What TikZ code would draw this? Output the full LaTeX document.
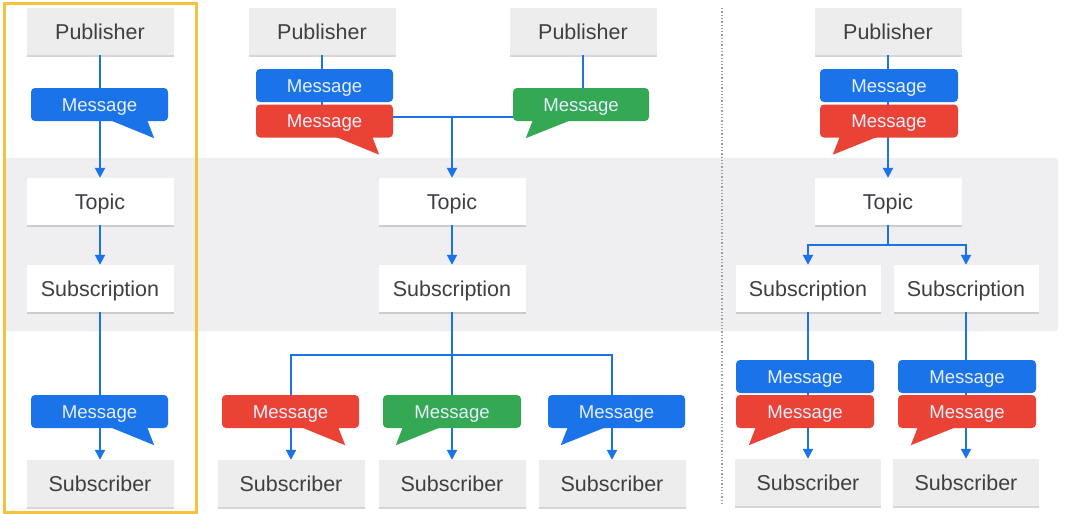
\documentclass[tikz,border=0pt]{standalone}
\usepackage{fontspec}
\setmainfont{Liberation Sans}
\usetikzlibrary{arrows.meta,shadows}
\definecolor{gblue}{HTML}{1A73E8}
\definecolor{gred}{HTML}{EA4335}
\definecolor{ggreen}{HTML}{34A853}
\definecolor{boxgray}{HTML}{EDEDEE}
\definecolor{bandgray}{HTML}{EFEEF0}
\definecolor{boxtext}{HTML}{3C4043}
\definecolor{msgtext}{HTML}{E8F0FE}
\definecolor{frameyellow}{HTML}{F5C23E}
\definecolor{dotgray}{HTML}{9AA0A6}
\tikzset{
 box/.style={minimum width=147pt, minimum height=47pt, inner sep=0pt,
   text height=15.4pt, text depth=0pt,
   font=\fontsize{21.5}{25}\selectfont, text=boxtext,
   drop shadow={shadow xshift=0pt, shadow yshift=-1.5pt, opacity=0.35, fill=black!45}},
 pubbox/.style={box, fill=boxgray},
 topbox/.style={box, fill=white},
 msg/.style={rounded corners=4pt, minimum width=137pt, minimum height=33pt, inner sep=0pt,
   text height=13.3pt, text depth=0pt,
   text=msgtext, font=\fontsize{18.6}{21}\selectfont},
 conn/.style={draw=gblue, line width=2pt},
 arr/.style={conn, -{Triangle[width=10pt,length=10pt]}},
}
\newcommand\tailR[2]{\fill[#2] ([xshift=-58pt,yshift=1pt]#1.south east) -- ([xshift=-14pt,yshift=-17pt]#1.south east) -- ([xshift=-21pt,yshift=1pt]#1.south east) -- cycle;}
\newcommand\tailL[2]{\fill[#2] ([xshift=20pt,yshift=1pt]#1.south west) -- ([xshift=13pt,yshift=-17pt]#1.south west) -- ([xshift=58pt,yshift=1pt]#1.south west) -- cycle;}
\begin{document}
\begin{tikzpicture}[x=1pt,y=-1pt]
\fill[white] (0,0) rectangle (1071,514);
\useasboundingbox (0,0) rectangle (1071,514);
% band
\fill[bandgray, rounded corners=3pt] (5,158) rectangle (1058,331);
\draw[frameyellow, line width=3pt] (4,3) rectangle (196,512);
\draw[dotgray, dotted, line width=1.3pt] (722,8) -- (722,505);

% left column boxes
\node[pubbox] (pA) at (100,31.5) {Publisher};
\node[topbox] (tA) at (100,201.5) {Topic};
\node[topbox] (sA) at (100,288.5) {Subscription};
\node[pubbox] (rA) at (100,483.5) {Subscriber};

% middle column boxes
\node[pubbox] (pB1) at (322,31.5) {Publisher};
\node[pubbox] (pB2) at (583,31.5) {Publisher};
\node[topbox] (tB) at (452,201.5) {Topic};
\node[topbox] (sB) at (452,288.5) {Subscription};
\node[pubbox] (rB1) at (291,483.5) {Subscriber};
\node[pubbox] (rB2) at (452,483.5) {Subscriber};
\node[pubbox] (rB3) at (612,483.5) {Subscriber};

% right column boxes
\node[pubbox] (pC) at (888,31.5) {Publisher};
\node[topbox] (tC) at (888,201.5) {Topic};
\node[topbox, minimum width=145pt] (sC1) at (808,288.5) {Subscription};
\node[topbox, minimum width=145pt] (sC2) at (966,288.5) {Subscription};
\node[pubbox, minimum width=146pt] (rC1) at (808,482.5) {Subscriber};
\node[pubbox, minimum width=146pt] (rC2) at (966,482.5) {Subscriber};

% connectors
\draw[arr] (pA.south) -- (tA.north);
\draw[arr] (tA.south) -- (sA.north);
\draw[arr] (sA.south) -- (rA.north);

\coordinate (J) at (452,117);
\draw[conn] (pB1.south) |- (J);
\draw[conn] (pB2.south) |- (J);
\draw[arr] (J) -- (tB.north);
\draw[arr] (tB.south) -- (sB.north);
\coordinate (K) at (452,355);
\draw[conn] (sB.south) -- (K);
\draw[arr] (K) -| (rB1.north);
\draw[arr] (K) -- (rB2.north);
\draw[arr] (K) -| (rB3.north);

\draw[arr] (pC.south) -- (tC.north);
\coordinate (L) at (888,245);
\draw[conn] (tC.south) -- (L);
\draw[arr] (L) -| (sC1.north);
\draw[arr] (L) -| (sC2.north);
\draw[arr] (sC1.south) -- (rC1.north);
\draw[arr] (sC2.south) -- (rC2.north);

% messages left
\node[msg, fill=gblue] (mA1) at (99.5,104.5) {Message};
\tailR{mA1}{gblue}
\node[msg, fill=gblue] (mA2) at (99.5,411.5) {Message};
\tailR{mA2}{gblue}

% messages middle
\node[msg, fill=gblue] (mB1) at (324.5,85.5) {Message};
\node[msg, fill=gred] (mB2) at (324.5,121) {Message};
\tailR{mB2}{gred}
\node[msg, fill=ggreen, minimum width=136pt] (mB3) at (581,104.5) {Message};
\tailL{mB3}{ggreen}
\node[msg, fill=gred] (mB4) at (290.5,411.5) {Message};
\tailR{mB4}{gred}
\node[msg, fill=ggreen, minimum width=138pt] (mB5) at (452,411.5) {Message};
\tailL{mB5}{ggreen}
\node[msg, fill=gblue] (mB6) at (616.5,411.5) {Message};
\tailL{mB6}{gblue}

% messages right
\node[msg, fill=gblue, minimum width=138pt] (mC1) at (889,85.5) {Message};
\node[msg, fill=gred, minimum width=138pt] (mC2) at (889,121) {Message};
\tailL{mC2}{gred}
\node[msg, fill=gblue, minimum width=138pt] (mC3) at (805,376.5) {Message};
\node[msg, fill=gred, minimum width=138pt] (mC4) at (805,411.5) {Message};
\tailL{mC4}{gred}
\node[msg, fill=gblue, minimum width=138pt] (mC5) at (967,376.5) {Message};
\node[msg, fill=gred, minimum width=138pt] (mC6) at (967,411.5) {Message};
\tailL{mC6}{gred}
\end{tikzpicture}
\end{document}
